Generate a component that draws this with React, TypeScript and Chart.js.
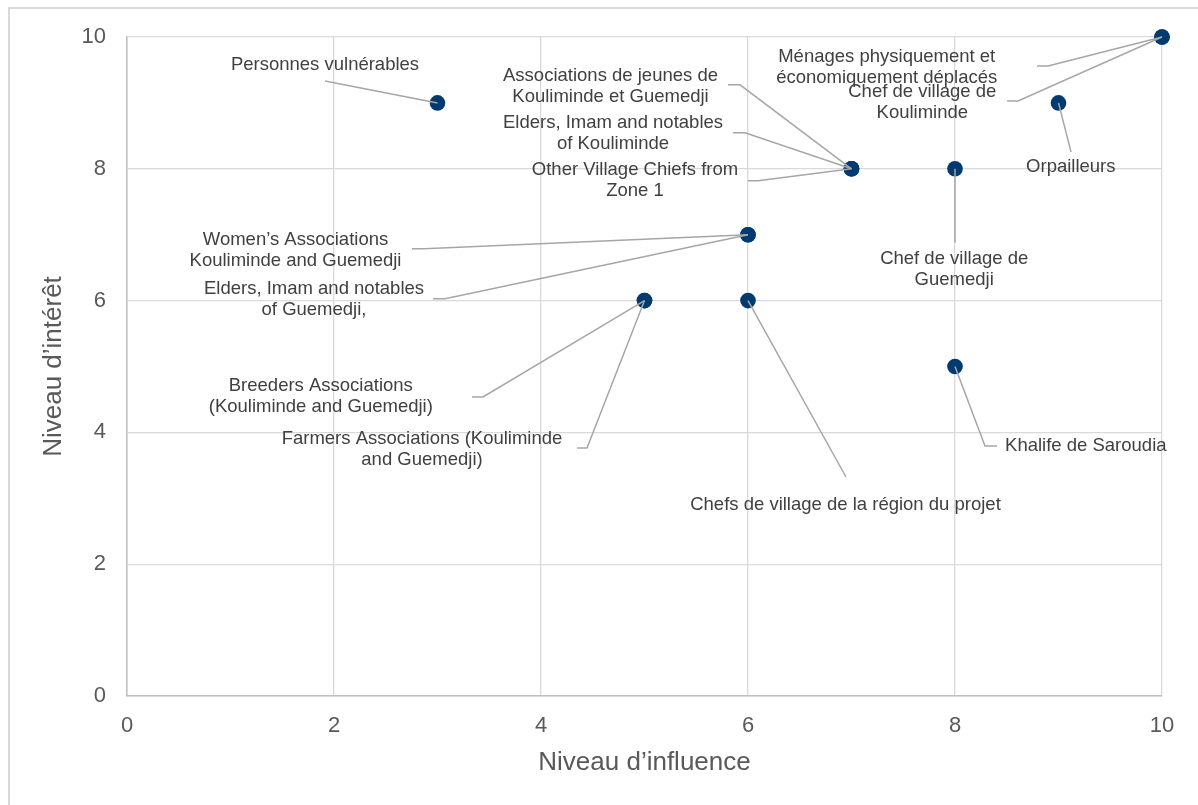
import { useEffect, useRef } from "react";
import { Chart, registerables } from "chart.js";

Chart.register(...registerables);

// Stakeholders: influence (x) vs. interest (y)
const stakeholders: string[] = [
  "Personnes vulnérables",
  "Associations de jeunes de\nKouliminde et Guemedji",
  "Elders, Imam and notables\nof Kouliminde",
  "Other Village Chiefs from\nZone 1",
  "Ménages physiquement et\néconomiquement déplacés",
  "Chef de village de\nKouliminde",
  "Orpailleurs",
  "Chef de village de\nGuemedji",
  "Women’s Associations\nKouliminde and Guemedji",
  "Elders, Imam and notables\nof Guemedji,",
  "Breeders Associations\n(Kouliminde and Guemedji)",
  "Farmers Associations (Kouliminde\nand Guemedji)",
  "Chefs de village de la région du projet",
  "Khalife de Saroudia",
];
const influence: number[] = [3, 7, 7, 7, 10, 10, 9, 8, 6, 6, 5, 5, 6, 8];
const interest: number[] = [9, 8, 8, 8, 10, 10, 9, 8, 7, 7, 6, 6, 6, 5];

const xTitle = "Niveau d’influence";
const yTitle = "Niveau d’intérêt";
const axisMin = 0;
const axisMax = 10;
const axisStep = 2;

// Label placement in pixels relative to each point:
// [text dx, text dy, leader start dx, leader start dy, horizontal stub]
const labelPlacement: [number, number, number, number, number][] = [
  [-112.5, -37.7, -112.5, -22, 0],
  [-241, -82.5, -123.5, -84, 12],
  [-238.5, -35, -118.5, -36, 12],
  [-216.5, 12, -103.5, 12, 10],
  [-275.3, 30, -125, 29, 11],
  [-239.7, 65, -155, 64, 11],
  [12.3, 63.7, 12.5, 49, 0],
  [-0.8, 101, 0, 74, 0],
  [-452.5, 15.5, -336, 14, 12],
  [-434, 64.5, -315, 64, 12],
  [-323.7, 96.1, -172.5, 96.4, 11],
  [-222.5, 148.4, -67.5, 147.4, 10],
  [97.5, 204.4, 98, 176.4, 0],
  [130.8, 79.5, 42, 79.5, -12],
];

const FONT = "'Liberation Sans', Arial, Helvetica, sans-serif";

const leaderLabels = {
  id: "leaderLabels",
  afterDatasetsDraw(chart: any) {
    const ctx: CanvasRenderingContext2D = chart.ctx;
    const meta = chart.getDatasetMeta(0);
    ctx.save();
    meta.data.forEach((pt: any, i: number) => {
      const [tdx, tdy, ldx, ldy, stub] = labelPlacement[i];
      const px = pt.x;
      const py = pt.y;
      ctx.strokeStyle = "#a6a6a6";
      ctx.lineWidth = 1.5;
      ctx.beginPath();
      ctx.moveTo(px + ldx, py + ldy);
      if (stub) ctx.lineTo(px + ldx + stub, py + ldy);
      ctx.lineTo(px, py);
      ctx.stroke();

      const lines = stakeholders[i].split("\n");
      ctx.font = `18.5px ${FONT}`;
      ctx.fillStyle = "#404040";
      ctx.textAlign = "center";
      ctx.textBaseline = "middle";
      const lh = 21;
      lines.forEach((ln, k) => {
        ctx.fillText(ln, px + tdx, py + tdy + (k - (lines.length - 1) / 2) * lh);
      });
    });
    ctx.restore();
  },
};

export default function App() {
  const canvasRef = useRef<HTMLCanvasElement | null>(null);

  useEffect(() => {
    if (!canvasRef.current) return;
    const points = influence.map((x, i) => ({ x, y: interest[i] }));
    const chart = new Chart(canvasRef.current, {
      type: "scatter",
      data: {
        datasets: [
          {
            data: points,
            backgroundColor: "#003A70",
            borderWidth: 0,
            pointRadius: 7.8,
            pointHoverRadius: 7.8,
            clip: false,
          },
        ],
      },
      options: {
        animation: false,
        responsive: false,
        devicePixelRatio: 1,
        layout: { padding: { left: 0, top: 37, right: 36, bottom: 0 } },
        plugins: {
          legend: { display: false },
          tooltip: { enabled: false },
        },
        scales: {
          x: {
            type: "linear",
            min: axisMin,
            max: axisMax,
            ticks: {
              stepSize: axisStep,
              color: "#595959",
              font: { family: FONT, size: 22 },
              padding: 17,
            },
            grid: { color: "#d9d9d9", lineWidth: 1.3, drawTicks: false },
            border: { color: "#bfbfbf", width: 1.5 },
            title: {
              display: true,
              text: xTitle,
              color: "#595959",
              font: { family: FONT, size: 26 },
              padding: { top: 0, bottom: 26.4 },
            },
            afterFit: (scale: any) => {
              scale.height = 109;
            },
          },
          y: {
            type: "linear",
            min: axisMin,
            max: axisMax,
            ticks: {
              stepSize: axisStep,
              color: "#595959",
              font: { family: FONT, size: 22 },
              padding: 21,
            },
            grid: { color: "#d9d9d9", lineWidth: 1.3, drawTicks: false },
            border: { color: "#bfbfbf", width: 1.5 },
            title: {
              display: true,
              text: yTitle,
              color: "#595959",
              font: { family: FONT, size: 26 },
              padding: { top: 38, bottom: 0 },
            },
            afterFit: (scale: any) => {
              scale.width = 127;
            },
          },
        },
      },
      plugins: [leaderLabels],
    });
    return () => chart.destroy();
  }, []);

  return (
    <>
      <div
        style={{
          position: "fixed",
          left: 8,
          top: 7,
          width: 1190,
          height: 798,
          borderLeft: "2px solid #d9d9d9",
          borderTop: "2px solid #d9d9d9",
          boxSizing: "border-box",
          background: "#ffffff",
        }}
      />
      <canvas
        ref={canvasRef}
        width={1198}
        height={805}
        style={{ position: "fixed", left: 0, top: 0, width: 1198, height: 805 }}
      />
    </>
  );
}
